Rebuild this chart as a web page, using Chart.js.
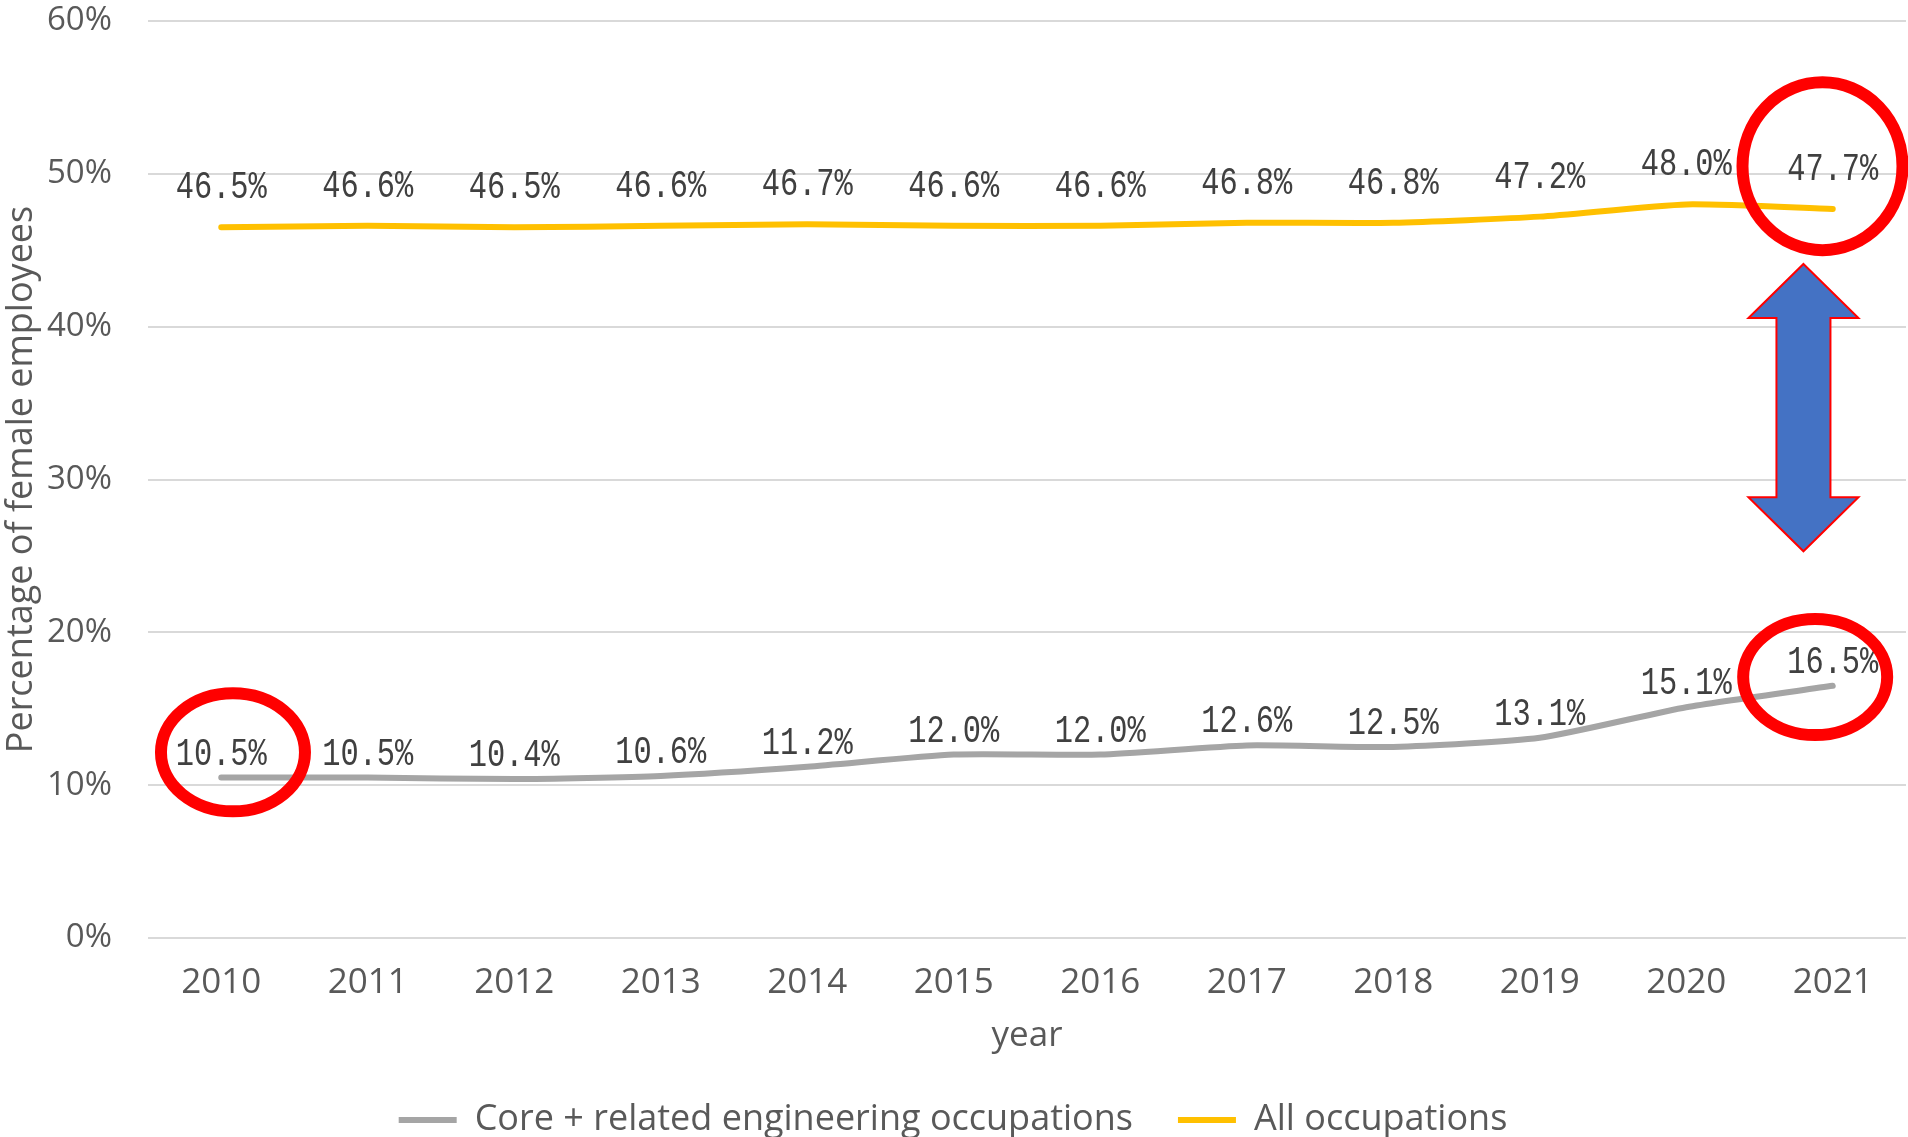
<!DOCTYPE html>
<html>
<head>
<meta charset="utf-8">
<script src="https://cdn.jsdelivr.net/npm/chart.js@4.4.1/dist/chart.umd.min.js"></script>
<style>
  html, body { margin: 0; padding: 0; background: #fff; overflow: hidden; }
  /* the original picture is cut off just under the legend text */
  #wrap { width: 1908px; height: 1148px; }
</style>
</head>
<body>
<div id="wrap"><canvas id="femaleChart"></canvas></div>
<script>
var years = ['2010', '2011', '2012', '2013', '2014', '2015', '2016', '2017', '2018', '2019', '2020', '2021'];
var coreEngineering = [10.5, 10.5, 10.4, 10.6, 11.2, 12.0, 12.0, 12.6, 12.5, 13.1, 15.1, 16.5];
var allOccupations = [46.5, 46.6, 46.5, 46.6, 46.7, 46.6, 46.6, 46.8, 46.8, 47.2, 48.0, 47.7];
var seriesNames = ['Core + related engineering occupations', 'All occupations'];

// value labels above each point (squeezed a bit like the original)
var pointLabels = {
  id: 'pointLabels',
  afterDatasetsDraw: function(chart) {
    var ctx = chart.ctx;
    chart.data.datasets.forEach(function(ds, i) {
      var meta = chart.getDatasetMeta(i);
      var lift = i == 0 ? 23 : 39;
      meta.data.forEach(function(pt, j) {
        ctx.save();
        ctx.translate(pt.x, pt.y - lift);
        ctx.scale(0.8, 1);
        ctx.font = '38px "Liberation Mono"';
        ctx.fillStyle = '#404040';
        ctx.textAlign = 'center';
        ctx.textBaseline = 'middle';
        ctx.fillText(ds.data[j].toFixed(1) + '%', 0, 0);
        ctx.restore();
      });
    });
  }
};

// red rings + the blue gap arrow, placed in axis units (category index, percent)
var highlights = {
  id: 'highlights',
  afterDraw: function(chart) {
    var ctx = chart.ctx;
    var xs = chart.scales.x, ys = chart.scales.y;
    var rings = [
      { i: 0.08, v: 12.15, rx: 72, ry: 59 },
      { i: 10.93, v: 50.5, rx: 80, ry: 84 },
      { i: 10.88, v: 17.07, rx: 72, ry: 58 }
    ];
    ctx.save();
    ctx.strokeStyle = '#ff0000';
    ctx.lineWidth = 12;
    rings.forEach(function(r) {
      ctx.beginPath();
      ctx.ellipse(xs.getPixelForValue(r.i), ys.getPixelForValue(r.v), r.rx, r.ry, 0, 0, Math.PI * 2);
      ctx.stroke();
    });

    var ax = xs.getPixelForValue(10.8);
    var top = ys.getPixelForValue(44.1);
    var bot = ys.getPixelForValue(25.3);
    var head = 54, hw = 55, sw = 27;
    ctx.beginPath();
    ctx.moveTo(ax, top);
    ctx.lineTo(ax + hw, top + head);
    ctx.lineTo(ax + sw, top + head);
    ctx.lineTo(ax + sw, bot - head);
    ctx.lineTo(ax + hw, bot - head);
    ctx.lineTo(ax, bot);
    ctx.lineTo(ax - hw, bot - head);
    ctx.lineTo(ax - sw, bot - head);
    ctx.lineTo(ax - sw, top + head);
    ctx.lineTo(ax - hw, top + head);
    ctx.closePath();
    ctx.fillStyle = '#4472c4';
    ctx.fill();
    ctx.lineWidth = 2;
    ctx.strokeStyle = '#ff0000';
    ctx.stroke();
    ctx.restore();
  }
};

var ctx = document.getElementById('femaleChart').getContext('2d');
var femaleChart = new Chart(ctx, {
  type: 'line',
  data: {
    labels: years,
    datasets: [
      {
        label: seriesNames[0],
        data: coreEngineering,
        borderColor: '#a5a5a5',
        backgroundColor: '#a5a5a5',
        borderWidth: 6,
        pointRadius: 0,
        tension: 0.2,
        borderCapStyle: 'round',
        borderJoinStyle: 'round'
      },
      {
        label: seriesNames[1],
        data: allOccupations,
        borderColor: '#ffc000',
        backgroundColor: '#ffc000',
        borderWidth: 6,
        pointRadius: 0,
        tension: 0.2,
        borderCapStyle: 'round',
        borderJoinStyle: 'round'
      }
    ]
  },
  options: {
    responsive: true,
    maintainAspectRatio: false,
    animation: false,
    layout: { padding: { top: 21, right: 2, left: 0, bottom: 0 } },
    scales: {
      x: {
        offset: true,
        grid: { display: false },
        border: { display: false },
        ticks: { color: '#595959', font: { family: 'Open Sans', size: 35 }, padding: 16 },
        title: { display: true, text: 'year', color: '#595959', font: { family: 'Open Sans', size: 35 }, padding: { top: -5, bottom: 0 } }
      },
      y: {
        min: 0,
        max: 60,
        ticks: {
          stepSize: 10,
          color: '#595959',
          font: { family: 'Open Sans', size: 33 },
          padding: 0,
          callback: function(v) { return v + '%'; }
        },
        // invisible tick marks give the gap between labels and plot
        grid: { color: '#d9d9d9', lineWidth: 2, drawTicks: true, tickLength: 36, tickColor: 'rgba(0,0,0,0)' },
        border: { display: false },
        title: { display: true, text: 'Percentage of female employees', color: '#595959', font: { family: 'Open Sans', size: 36 }, padding: 0 },
        afterFit: function(scale) { scale.width = 148; }
      }
    },
    plugins: {
      legend: {
        position: 'bottom',
        labels: {
          usePointStyle: true,
          pointStyle: 'line',
          pointStyleWidth: 58,
          color: '#595959',
          font: { family: 'Open Sans', size: 36 },
          padding: 45
        }
      },
      tooltip: { enabled: false }
    }
  },
  plugins: [pointLabels, highlights]
});
</script>
</body>
</html>
